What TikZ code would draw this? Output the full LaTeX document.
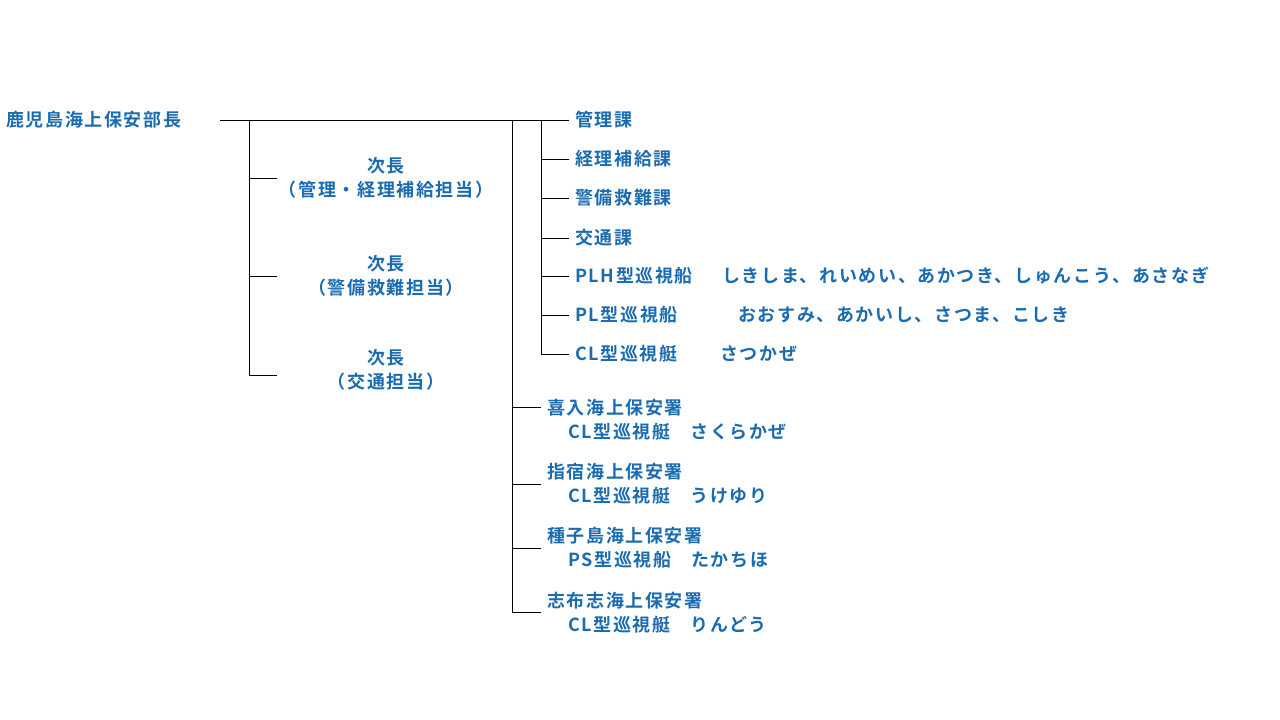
\documentclass[tikz,border=0pt]{standalone}
\usepackage{fontspec}
\newfontfamily\jp[LetterSpace=9]{Noto Sans CJK JP Bold}
\definecolor{orgblue}{HTML}{1A6BB0}
\begin{document}
\begin{tikzpicture}[x=1pt,y=-1pt,
  lbl/.style={text=orgblue,font=\jp\fontsize{18}{24}\selectfont,inner sep=0pt},
  sub/.style={lbl,anchor=west,align=left},
  vice/.style={lbl,align=center}]
\useasboundingbox (0,0) rectangle (1280,720);
\node[lbl,anchor=west] (chief) at (6,120) {鹿児島海上保安部長};
\coordinate (top) at (220,120);
\coordinate (left) at (249,120);
\coordinate (mid) at (512,120);
\coordinate (inner) at (541,120);
\draw (top) -- (569,120);
% vice chiefs
\node[vice] (v1) at (386,178) {次長\\（管理・経理補給担当）};
\node[vice] (v2) at (386,276) {次長\\（警備救難担当）};
\node[vice] (v3) at (386,370) {次長\\（交通担当）};
\draw (left) -- (249,375);
\foreach \y in {178,276,375} \draw (249,\y) -- (277,\y);
% sections
\node[sub] (s1) at (575,120) {管理課};
\node[sub] (s2) at (575,159) {経理補給課};
\node[sub] (s3) at (575,198) {警備救難課};
\node[sub] (s4) at (575,238) {交通課};
\node[sub] (s5) at (575,276) {PLH型巡視船};
\node[sub] (s6) at (575,315) {PL型巡視船};
\node[sub] (s7) at (575,354) {CL型巡視艇};
\node[sub] (n5) at (722,276) {しきしま、れいめい、あかつき、しゅんこう、あさなぎ};
\node[sub] (n6) at (738,315) {おおすみ、あかいし、さつま、こしき};
\node[sub] (n7) at (720,354) {さつかぜ};
\draw (inner) -- (541,354);
\foreach \y in {159,198,238,276,315,354} \draw (541,\y) -- (569,\y);
% stations
\node[sub] (t1) at (547,420) {喜入海上保安署\\\hspace{21pt}CL型巡視艇\hspace{20pt}さくらかぜ};
\node[sub] (t2) at (547,484) {指宿海上保安署\\\hspace{21pt}CL型巡視艇\hspace{20pt}うけゆり};
\node[sub] (t3) at (547,548) {種子島海上保安署\\\hspace{21pt}PS型巡視船\hspace{20pt}たかちほ};
\node[sub] (t4) at (547,613) {志布志海上保安署\\\hspace{21pt}CL型巡視艇\hspace{20pt}りんどう};
\draw (mid) -- (512,612);
\foreach \y in {407,484,548,612} \draw (512,\y) -- (541,\y);
\end{tikzpicture}
\end{document}
